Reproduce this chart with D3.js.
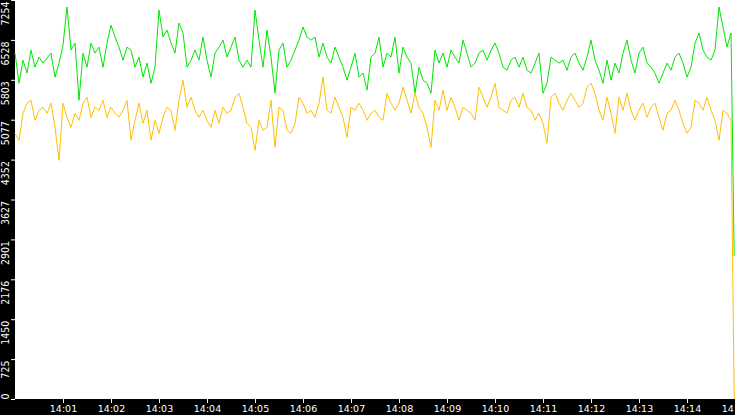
<!DOCTYPE html>
<html>
<head>
<meta charset="utf-8">
<script src="https://cdn.jsdelivr.net/npm/d3@7"></script>
<style>
  html, body { margin: 0; padding: 0; background: #000; }
  svg { display: block; }
</style>
</head>
<body>
<div id="chart-container"></div>
<script>
// Values, one sample every 5 seconds from 14:00:00
const greenValues = [
  6288,5741,6160,5924,6343,6033,6215,6106,6197,6288,5851,6106,6434,7126,6343,6470,5431,6288,6033,6470,
  6288,6397,6033,6470,6798,6580,6397,6160,6397,6343,6033,6215,5851,6106,5741,6033,7072,6580,6707,6470,
  6288,6835,6653,6033,6160,6343,6160,
  6580,6160,5851,6288,6397,6524,6215,6397,6580,6160,6033,6160,6033,7072,6524,6033,6707,6215,5559,6343,
  6470,6033,6160,6343,6524,6762,6580,6524,6580,6215,6470,6215,6106,6397,
  6215,6033,5796,6033,6288,5851,5924,5614,6215,6288,6580,6033,6288,6215,6580,5924,6397,6215,6106,5559,
  6033,5796,5741,5559,6343,6106,6288,6033,6343,6215,6106,6524,6288,
  6033,6106,6288,6343,6160,6343,6470,6288,6033,5978,6160,6215,6033,6215,5978,5924,6106,6288,5559,5741,
  6215,6160,6106,6160,5978,6215,6288,6106,5978,6215,6524,6160,5978,5741,
  6160,5796,6106,5924,6288,6524,6160,5924,6288,6397,6106,6033,5924,5741,5924,6106,5978,6215,6288,6106,
  5851,6033,6470,6653,6343,6215,6160,6343,7126,6762,6397,6653,
  2600
];

const orangeValues = [
  4830,4702,5195,5377,5431,5067,5249,5304,5195,5377,4939,4338,5377,5122,4939,5195,5067,5377,5486,5122,
  5304,5249,5431,5122,5304,5195,5122,5249,5431,4702,5067,5377,5012,5249,4702,5067,4830,5122,5304,5249,
  4885,5431,5796,5304,5486,5249,5122,
  5249,5067,4939,5249,5012,5304,5195,5249,5486,5559,5304,5012,4939,4520,5067,4885,4939,5431,4575,5304,
  5249,4885,4830,5012,5486,5377,5195,5249,5122,5377,5851,5249,5195,5486,
  5304,5122,4757,5304,5249,5377,5249,5067,5195,5249,5122,5067,5559,5377,5249,5377,5668,5431,5195,5559,
  5304,5195,4939,4575,5431,5249,5614,5249,5486,5304,5067,5304,5249,
  5195,5067,5668,5486,5304,5486,5741,5304,5249,5195,5431,5486,5304,5559,5304,5249,5067,5195,5012,4648,
  5486,5559,5377,5249,5431,5559,5431,5304,5377,5668,5741,5559,5249,5067,
  5486,5195,4830,5486,5249,5559,5249,5067,5249,5377,5122,5304,5377,5122,4885,5195,5249,5431,5249,5012,
  4830,4939,5431,5377,5249,5486,5249,5067,4702,5249,5195,5067,
  0
];

// Y tick labels as printed on the chart
const yTickLabels = [0, 725, 1450, 2176, 2901, 3627, 4352, 5077, 5803, 6528, 7254];
const yMax = 7254;

// Time stamps: every 5 s, the last sample just before 14:15
const start = new Date(2020, 0, 1, 14, 0, 0);
const end = new Date(2020, 0, 1, 14, 15, 0);
const times = greenValues.map((d, i) => i < greenValues.length - 1
  ? new Date(start.getTime() + i * 5000)
  : new Date(end.getTime() - 1000));

const green = greenValues.map((v, i) => ({ t: times[i], v }));
const orange = orangeValues.map((v, i) => ({ t: times[i], v }));

// Dimensions
const totalW = 735, totalH = 415;
const margin = { top: 0, right: 0, bottom: 16, left: 15 };
const width = totalW - margin.left - margin.right;
const height = totalH - margin.top - margin.bottom;

const x = d3.scaleTime().domain([start, end]).range([0, width]);
const y = d3.scaleLinear().domain([0, yMax]).range([height, 0]);

const svg = d3.select("#chart-container")
  .append("svg")
    .attr("width", totalW)
    .attr("height", totalH)
    .style("background", "#000");

const g = svg.append("g")
  .attr("transform", `translate(${margin.left},${margin.top})`);

// White plot area
g.append("rect")
  .attr("width", width)
  .attr("height", height)
  .attr("fill", "#fff");

// Y axis: short white ticks and rotated labels
const yAxis = g.append("g")
  .call(d3.axisLeft(y)
    .tickValues(yTickLabels.map((d, i) => yMax * i / 10))
    .tickSize(4)
    .tickPadding(0)
    .tickFormat((d, i) => yTickLabels[i]));
yAxis.select(".domain").remove();
yAxis.selectAll(".tick line").attr("stroke", "#fff");
yAxis.selectAll(".tick text")
  .attr("fill", "#fff")
  .attr("x", null)
  .attr("dy", null)
  .attr("transform", (d, i) => i === 0 ? "translate(-6,0) rotate(-90)" : "translate(-6,1) rotate(-90)")
  .attr("text-anchor", (d, i) => i === 0 ? "start" : "end")
  .style("font-family", "'Liberation Sans Narrow', 'DejaVu Sans Condensed', sans-serif")
  .style("font-size", "10.5px");

// X axis: minute ticks
const xAxis = g.append("g")
  .attr("transform", `translate(0,${height})`)
  .call(d3.axisBottom(x)
    .ticks(d3.timeMinute.every(1))
    .tickSize(4)
    .tickPadding(2)
    .tickFormat(d3.timeFormat("%H:%M")));
xAxis.select(".domain").remove();
xAxis.selectAll(".tick").filter(d => d.getTime() === start.getTime()).remove();
xAxis.selectAll(".tick line").attr("stroke", "#fff");
xAxis.selectAll(".tick text")
  .attr("fill", "#fff")
  .style("font-family", "'DejaVu Sans', sans-serif")
  .style("font-size", "9.5px");

// Lines
const line = d3.line()
  .x(d => x(d.t))
  .y(d => y(d.v));

const plot = g.append("g");

plot.append("path")
  .datum(green)
  .attr("fill", "none")
  .attr("stroke", "#00e600")
  .attr("stroke-width", 1)
  .attr("d", line);

plot.append("path")
  .datum(orange)
  .attr("fill", "none")
  .attr("stroke", "#ffc000")
  .attr("stroke-width", 1)
  .attr("d", line);
</script>
</body>
</html>
